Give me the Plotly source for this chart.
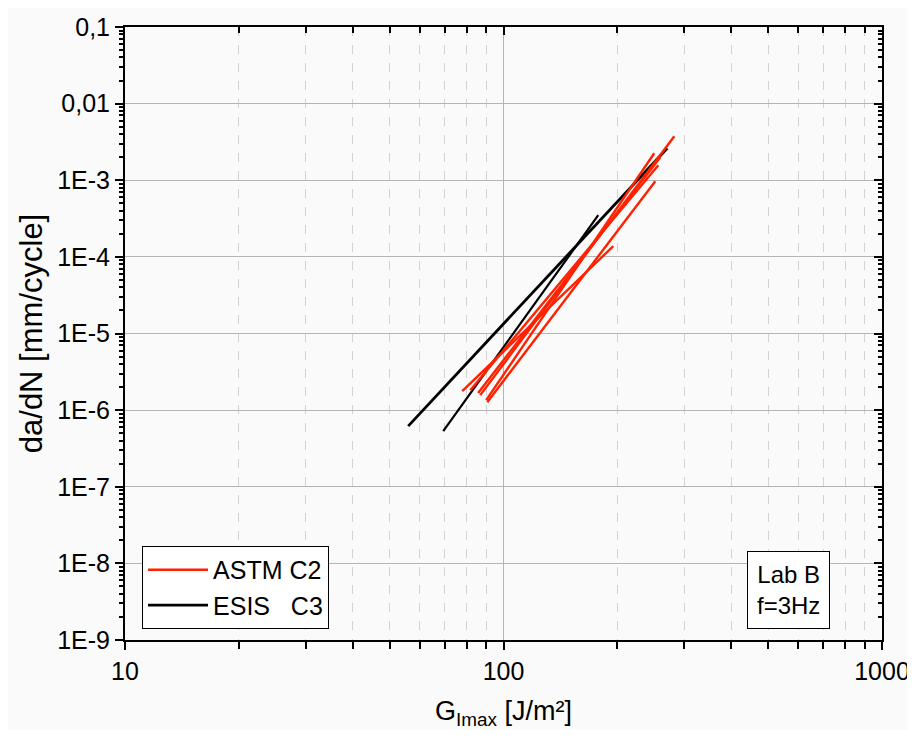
import plotly.graph_objects as go

# ---- data ----
astm_x = [[77.8, 195.0], [85.7, 259.6], [90.6, 251.8], [86.8, 282.7], [90.0, 250.2], [81.7, 256.4]]
astm_y = [[1.77e-6, 1.38e-4], [1.67e-6, 2.0e-3], [1.27e-6, 9.7e-4], [1.57e-6, 3.75e-3], [1.35e-6, 2.25e-3], [1.82e-6, 1.57e-3]]
esis_x = [[56.0, 270.8], [69.3, 178.0]]
esis_y = [[6.19e-7, 2.62e-3], [5.33e-7, 3.50e-4]]

y_tickvals = [1e-9, 1e-8, 1e-7, 1e-6, 1e-5, 1e-4, 1e-3, 1e-2, 1e-1]
y_ticktext = ["1E-9", "1E-8", "1E-7", "1E-6", "1E-5", "1E-4", "1E-3", "0,01", "0,1"]
x_tickvals = [10, 100, 1000]
x_ticktext = ["10", "100", "1000"]

RED = "#ff2200"
BLACK = "#000000"
FONT = "Liberation Sans, Arial, sans-serif"

x_minor = [d * m for d in (10, 100) for m in range(2, 10)]
y_minor = [m * 10.0 ** e for e in range(-9, -1) for m in range(2, 10)]

fig = go.Figure()
for i, (xs, ys) in enumerate(zip(esis_x, esis_y)):
    fig.add_trace(go.Scatter(x=xs, y=ys, mode="lines", line=dict(color=BLACK, width=2.8 if i == 0 else 2.2),
                             name="ESIS\u00a0\u00a0\u00a0C3", legendgroup="esis", showlegend=(i == 0),
                             legendrank=2))
for i, (xs, ys) in enumerate(zip(astm_x, astm_y)):
    fig.add_trace(go.Scatter(x=xs, y=ys, mode="lines", line=dict(color=RED, width=2.4),
                             name="ASTM C2", legendgroup="astm", showlegend=(i == 0), legendrank=1))

# dummy trace for mirrored axes
fig.add_trace(go.Scatter(x=[10], y=[1e-9], xaxis="x2", yaxis="y2", mode="markers",
                         marker=dict(opacity=0), showlegend=False, hoverinfo="skip"))

axis_common = dict(type="log", showline=True, linecolor=BLACK, linewidth=2, zeroline=False, automargin=False)

fig.update_layout(
    width=907, height=722,
    margin=dict(l=117, r=33, t=19, b=90),
    paper_bgcolor="#fafafa", plot_bgcolor="#fafafa",
    font=dict(family=FONT, color=BLACK, size=24),
    xaxis=dict(**axis_common, range=[1, 3], tickmode="array", tickvals=x_tickvals, ticktext=x_ticktext,
               ticks="outside", ticklen=8, tickwidth=2, tickcolor=BLACK, ticklabeloverflow="allow",
               showgrid=True, gridcolor="#b4b4b4", gridwidth=1,
               minor=dict(tickmode="array", tickvals=x_minor, ticks="outside", ticklen=7, tickwidth=2,
                          tickcolor=BLACK, showgrid=True, gridcolor="#d2d2d2", griddash="dash", gridwidth=1),
               tickfont=dict(size=25),
               title=dict(text="G<sub>Imax</sub> [J/m²]", font=dict(size=27), standoff=26)),
    yaxis=dict(**axis_common, range=[-9, -1], tickmode="array", tickvals=y_tickvals, ticktext=y_ticktext,
               ticks="outside", ticklen=8, tickwidth=2, tickcolor=BLACK, ticklabeloverflow="allow",
               showgrid=True, gridcolor="#b4b4b4", gridwidth=1,
               minor=dict(tickmode="array", tickvals=y_minor, ticks="outside", ticklen=4, tickwidth=1.5,
                          tickcolor=BLACK, showgrid=False),
               tickfont=dict(size=25),
               title=dict(text="da/dN [mm/cycle]", font=dict(size=31), standoff=5)),
    xaxis2=dict(**axis_common, range=[1, 3], overlaying="x", side="top", anchor="y2",
                tickmode="array", tickvals=x_tickvals, showticklabels=False,
                ticks="inside", ticklen=8, tickwidth=2, tickcolor=BLACK, showgrid=False,
                minor=dict(tickmode="array", tickvals=x_minor, ticks="inside", ticklen=6, tickwidth=2,
                           tickcolor=BLACK, showgrid=False)),
    yaxis2=dict(**axis_common, range=[-9, -1], overlaying="y", side="right", anchor="x2",
                tickmode="array", tickvals=y_tickvals, showticklabels=False,
                ticks="inside", ticklen=8, tickwidth=2, tickcolor=BLACK, showgrid=False,
                minor=dict(tickmode="array", tickvals=y_minor, ticks="inside", ticklen=4, tickwidth=1.5,
                           tickcolor=BLACK, showgrid=False)),
    legend=dict(x=0.0225, y=0.018, xanchor="left", yanchor="bottom", bgcolor="#ffffff",
                bordercolor=BLACK, borderwidth=1, font=dict(size=25), itemwidth=60,
                tracegroupgap=0),
    annotations=[dict(text="Lab B<br>f=3Hz", xref="paper", yref="paper", x=0.877, y=0.082,
                      xanchor="center", yanchor="middle", showarrow=False, font=dict(size=24),
                      bordercolor=BLACK, borderwidth=1, borderpad=9, bgcolor="#ffffff")],
    showlegend=True,
)

fig.write_html("out.html")
